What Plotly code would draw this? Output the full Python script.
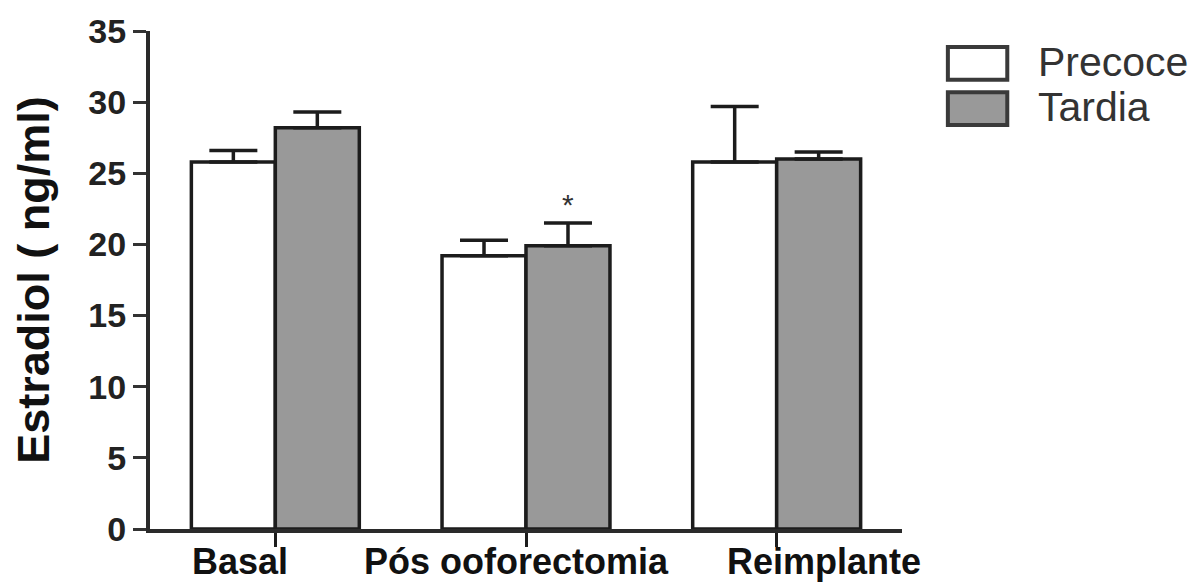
import plotly.graph_objects as go

categories = ["Basal", "Pós ooforectomia", "Reimplante"]
precoce = [25.8, 19.2, 25.8]
precoce_err = [0.8, 1.1, 3.9]
tardia = [28.2, 19.9, 26.0]
tardia_err = [1.1, 1.6, 0.5]
y_ticks = [0, 5, 10, 15, 20, 25, 30, 35]
# label centre offsets (layout only)
label_pos = [-0.14, 0.964, 2.19]

FONT = "Arial, Liberation Sans, sans-serif"
EDGE = "#1c1c1c"
GREY = "#999999"
BAR_W = 0.335

x = list(range(len(categories)))

fig = go.Figure()
fig.add_trace(go.Bar(
    x=x, y=precoce, name="Precoce", width=BAR_W, offset=-BAR_W,
    marker=dict(color="white", line=dict(color=EDGE, width=3.5)),
    error_y=dict(type="data", array=precoce_err, arrayminus=[0]*3, symmetric=False,
                 color=EDGE, thickness=3.5, width=24),
    showlegend=False,
))
fig.add_trace(go.Bar(
    x=x, y=tardia, name="Tardia", width=BAR_W, offset=0,
    marker=dict(color=GREY, line=dict(color=EDGE, width=3.5)),
    error_y=dict(type="data", array=tardia_err, arrayminus=[0]*3, symmetric=False,
                 color=EDGE, thickness=3.5, width=24),
    showlegend=False,
))

# significance star above Pós ooforectomia / Tardia
fig.add_annotation(x=1 + BAR_W / 2, y=tardia[1] + tardia_err[1], text="*",
                   showarrow=False, yanchor="bottom", yshift=0,
                   font=dict(family=FONT, size=30, color="#333333"))

# category labels
for cat, pos in zip(categories, label_pos):
    fig.add_annotation(x=pos, xref="x", y=0, yref="paper", text=cat,
                       showarrow=False, xanchor="center", yanchor="top", yshift=-10,
                       font=dict(family=FONT, size=36, color="#111111", weight="bold"))

# legend drawn as boxes + text
legend_items = [("Precoce", "white", 0.968, 0.902, 0.938),
                ("Tardia", GREY, 0.877, 0.811, 0.847)]
for name, fill, y1, y0, yc in legend_items:
    fig.add_shape(type="rect", xref="paper", yref="paper", x0=1.061, x1=1.140,
                  y0=y0, y1=y1, fillcolor=fill, line=dict(color="#3a3a3a", width=4))
    fig.add_annotation(xref="paper", yref="paper", x=1.178, y=yc, text=name,
                       showarrow=False, xanchor="left", yanchor="middle",
                       font=dict(family=FONT, size=41, color="#333333"))

fig.update_layout(
    width=1193, height=575,
    margin=dict(l=142, r=299, t=23, b=54, autoexpand=False),
    paper_bgcolor="white", plot_bgcolor="white",
    barmode="overlay",
    xaxis=dict(range=[-0.5, 2.5], tickvals=x, showticklabels=False, automargin=False,
               ticks="outside", ticklen=14, tickwidth=3, tickcolor=EDGE,
               showline=True, linecolor="#2a2a2a", linewidth=4,
               showgrid=False, zeroline=False),
    yaxis=dict(range=[0, 35], tickvals=y_ticks, ticks="outside", ticklen=13,
               tickwidth=3, tickcolor="#333333", automargin=False,
               showline=True, linecolor="#2a2a2a", linewidth=4,
               showgrid=False, zeroline=False,
               tickfont=dict(family=FONT, size=34, color="#222222", weight="bold"),
               title=dict(text="Estradiol ( ng/ml)", standoff=26,
                          font=dict(family=FONT, size=45, color="#111111", weight="bold"))),
)

fig.write_html("out.html")
